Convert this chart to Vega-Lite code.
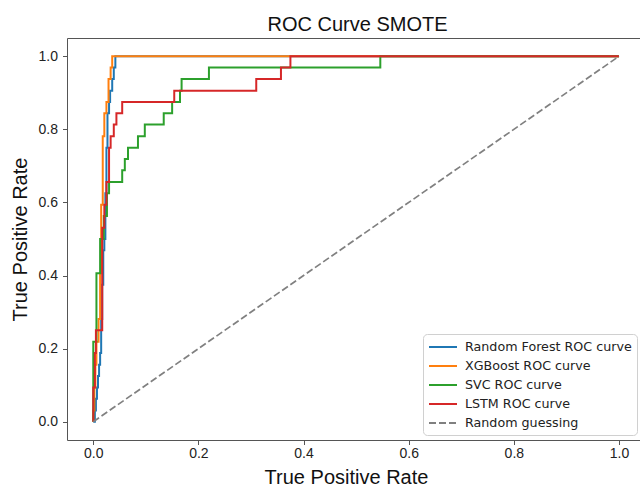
{
"$schema": "https://vega.github.io/schema/vega-lite/v6.json",
"width": 573, "height": 402,
"autosize": {"type": "none"},
"padding": {"left": 67, "top": 38, "right": 0, "bottom": 46},
"background": "white",
"title": {"text": "ROC Curve SMOTE", "font": "Liberation Sans", "fontSize": 20, "fontWeight": "normal", "color": "#111", "offset": 3, "dx": 4},
"config": {
  "view": {"stroke": "#555", "strokeWidth": 1},
  "axis": {"grid": false, "domain": false, "tickColor": "#555", "tickSize": 4.5, "labelFont": "Liberation Sans", "labelFontSize": 14, "labelColor": "#222", "titleFont": "Liberation Sans", "titleFontSize": 20, "titleFontWeight": "normal", "titleColor": "#111"},
  "legend": {"symbolType": "M-2,0H2", "symbolSize": 196, "symbolStrokeWidth": 2, "symbolOffset": 7, "labelFont": "DejaVu Sans", "labelFontSize": 12.7, "labelColor": "#222", "labelOffset": 14, "labelLimit": 300, "padding": 5, "strokeColor": "#d0d0d0", "fillColor": "white", "cornerRadius": 4, "rowPadding": 4}
},
"data": {"values": [
{"m":"Random Forest ROC curve","i":0,"x":0,"y":0},{"m":"Random Forest ROC curve","i":1,"x":0.003,"y":0},{"m":"Random Forest ROC curve","i":2,"x":0.003,"y":0.031},{"m":"Random Forest ROC curve","i":3,"x":0.005,"y":0.031},{"m":"Random Forest ROC curve","i":4,"x":0.005,"y":0.063},{"m":"Random Forest ROC curve","i":5,"x":0.007,"y":0.063},{"m":"Random Forest ROC curve","i":6,"x":0.007,"y":0.094},{"m":"Random Forest ROC curve","i":7,"x":0.009,"y":0.094},{"m":"Random Forest ROC curve","i":8,"x":0.009,"y":0.125},{"m":"Random Forest ROC curve","i":9,"x":0.011,"y":0.125},{"m":"Random Forest ROC curve","i":10,"x":0.011,"y":0.156},{"m":"Random Forest ROC curve","i":11,"x":0.013,"y":0.156},{"m":"Random Forest ROC curve","i":12,"x":0.013,"y":0.188},{"m":"Random Forest ROC curve","i":13,"x":0.015,"y":0.188},{"m":"Random Forest ROC curve","i":14,"x":0.015,"y":0.281},{"m":"Random Forest ROC curve","i":15,"x":0.017,"y":0.281},{"m":"Random Forest ROC curve","i":16,"x":0.017,"y":0.375},{"m":"Random Forest ROC curve","i":17,"x":0.019,"y":0.375},{"m":"Random Forest ROC curve","i":18,"x":0.019,"y":0.469},{"m":"Random Forest ROC curve","i":19,"x":0.021,"y":0.469},{"m":"Random Forest ROC curve","i":20,"x":0.021,"y":0.5},{"m":"Random Forest ROC curve","i":21,"x":0.023,"y":0.5},{"m":"Random Forest ROC curve","i":22,"x":0.023,"y":0.625},{"m":"Random Forest ROC curve","i":23,"x":0.025,"y":0.625},{"m":"Random Forest ROC curve","i":24,"x":0.025,"y":0.75},{"m":"Random Forest ROC curve","i":25,"x":0.027,"y":0.75},{"m":"Random Forest ROC curve","i":26,"x":0.027,"y":0.844},{"m":"Random Forest ROC curve","i":27,"x":0.03,"y":0.844},{"m":"Random Forest ROC curve","i":28,"x":0.03,"y":0.875},{"m":"Random Forest ROC curve","i":29,"x":0.032,"y":0.875},{"m":"Random Forest ROC curve","i":30,"x":0.032,"y":0.906},{"m":"Random Forest ROC curve","i":31,"x":0.036,"y":0.906},{"m":"Random Forest ROC curve","i":32,"x":0.036,"y":0.938},{"m":"Random Forest ROC curve","i":33,"x":0.039,"y":0.938},{"m":"Random Forest ROC curve","i":34,"x":0.039,"y":0.969},{"m":"Random Forest ROC curve","i":35,"x":0.042,"y":0.969},{"m":"Random Forest ROC curve","i":36,"x":0.042,"y":1},{"m":"Random Forest ROC curve","i":37,"x":1,"y":1},
{"m":"XGBoost ROC curve","i":0,"x":0,"y":0},{"m":"XGBoost ROC curve","i":1,"x":0,"y":0.031},{"m":"XGBoost ROC curve","i":2,"x":0.002,"y":0.031},{"m":"XGBoost ROC curve","i":3,"x":0.002,"y":0.094},{"m":"XGBoost ROC curve","i":4,"x":0.004,"y":0.094},{"m":"XGBoost ROC curve","i":5,"x":0.004,"y":0.156},{"m":"XGBoost ROC curve","i":6,"x":0.006,"y":0.156},{"m":"XGBoost ROC curve","i":7,"x":0.006,"y":0.219},{"m":"XGBoost ROC curve","i":8,"x":0.01,"y":0.219},{"m":"XGBoost ROC curve","i":9,"x":0.01,"y":0.281},{"m":"XGBoost ROC curve","i":10,"x":0.013,"y":0.281},{"m":"XGBoost ROC curve","i":11,"x":0.013,"y":0.406},{"m":"XGBoost ROC curve","i":12,"x":0.015,"y":0.406},{"m":"XGBoost ROC curve","i":13,"x":0.015,"y":0.594},{"m":"XGBoost ROC curve","i":14,"x":0.018,"y":0.594},{"m":"XGBoost ROC curve","i":15,"x":0.018,"y":0.781},{"m":"XGBoost ROC curve","i":16,"x":0.021,"y":0.781},{"m":"XGBoost ROC curve","i":17,"x":0.021,"y":0.844},{"m":"XGBoost ROC curve","i":18,"x":0.025,"y":0.844},{"m":"XGBoost ROC curve","i":19,"x":0.025,"y":0.875},{"m":"XGBoost ROC curve","i":20,"x":0.029,"y":0.875},{"m":"XGBoost ROC curve","i":21,"x":0.029,"y":0.938},{"m":"XGBoost ROC curve","i":22,"x":0.033,"y":0.938},{"m":"XGBoost ROC curve","i":23,"x":0.033,"y":0.969},{"m":"XGBoost ROC curve","i":24,"x":0.036,"y":0.969},{"m":"XGBoost ROC curve","i":25,"x":0.036,"y":1},{"m":"XGBoost ROC curve","i":26,"x":1,"y":1},
{"m":"SVC ROC curve","i":0,"x":0,"y":0},{"m":"SVC ROC curve","i":1,"x":0,"y":0.219},{"m":"SVC ROC curve","i":2,"x":0.006,"y":0.219},{"m":"SVC ROC curve","i":3,"x":0.006,"y":0.406},{"m":"SVC ROC curve","i":4,"x":0.013,"y":0.406},{"m":"SVC ROC curve","i":5,"x":0.013,"y":0.5},{"m":"SVC ROC curve","i":6,"x":0.02,"y":0.5},{"m":"SVC ROC curve","i":7,"x":0.02,"y":0.563},{"m":"SVC ROC curve","i":8,"x":0.026,"y":0.563},{"m":"SVC ROC curve","i":9,"x":0.026,"y":0.625},{"m":"SVC ROC curve","i":10,"x":0.03,"y":0.625},{"m":"SVC ROC curve","i":11,"x":0.03,"y":0.656},{"m":"SVC ROC curve","i":12,"x":0.055,"y":0.656},{"m":"SVC ROC curve","i":13,"x":0.055,"y":0.688},{"m":"SVC ROC curve","i":14,"x":0.06,"y":0.688},{"m":"SVC ROC curve","i":15,"x":0.06,"y":0.719},{"m":"SVC ROC curve","i":16,"x":0.066,"y":0.719},{"m":"SVC ROC curve","i":17,"x":0.066,"y":0.75},{"m":"SVC ROC curve","i":18,"x":0.085,"y":0.75},{"m":"SVC ROC curve","i":19,"x":0.085,"y":0.781},{"m":"SVC ROC curve","i":20,"x":0.098,"y":0.781},{"m":"SVC ROC curve","i":21,"x":0.098,"y":0.813},{"m":"SVC ROC curve","i":22,"x":0.134,"y":0.813},{"m":"SVC ROC curve","i":23,"x":0.134,"y":0.844},{"m":"SVC ROC curve","i":24,"x":0.15,"y":0.844},{"m":"SVC ROC curve","i":25,"x":0.15,"y":0.875},{"m":"SVC ROC curve","i":26,"x":0.165,"y":0.875},{"m":"SVC ROC curve","i":27,"x":0.165,"y":0.906},{"m":"SVC ROC curve","i":28,"x":0.168,"y":0.906},{"m":"SVC ROC curve","i":29,"x":0.168,"y":0.938},{"m":"SVC ROC curve","i":30,"x":0.22,"y":0.938},{"m":"SVC ROC curve","i":31,"x":0.22,"y":0.969},{"m":"SVC ROC curve","i":32,"x":0.546,"y":0.969},{"m":"SVC ROC curve","i":33,"x":0.546,"y":1},{"m":"SVC ROC curve","i":34,"x":1,"y":1},
{"m":"LSTM ROC curve","i":0,"x":0,"y":0},{"m":"LSTM ROC curve","i":1,"x":0,"y":0.094},{"m":"LSTM ROC curve","i":2,"x":0.003,"y":0.094},{"m":"LSTM ROC curve","i":3,"x":0.003,"y":0.188},{"m":"LSTM ROC curve","i":4,"x":0.005,"y":0.188},{"m":"LSTM ROC curve","i":5,"x":0.005,"y":0.25},{"m":"LSTM ROC curve","i":6,"x":0.017,"y":0.25},{"m":"LSTM ROC curve","i":7,"x":0.017,"y":0.531},{"m":"LSTM ROC curve","i":8,"x":0.021,"y":0.531},{"m":"LSTM ROC curve","i":9,"x":0.021,"y":0.594},{"m":"LSTM ROC curve","i":10,"x":0.025,"y":0.594},{"m":"LSTM ROC curve","i":11,"x":0.025,"y":0.656},{"m":"LSTM ROC curve","i":12,"x":0.03,"y":0.656},{"m":"LSTM ROC curve","i":13,"x":0.03,"y":0.75},{"m":"LSTM ROC curve","i":14,"x":0.033,"y":0.75},{"m":"LSTM ROC curve","i":15,"x":0.033,"y":0.781},{"m":"LSTM ROC curve","i":16,"x":0.039,"y":0.781},{"m":"LSTM ROC curve","i":17,"x":0.039,"y":0.813},{"m":"LSTM ROC curve","i":18,"x":0.044,"y":0.813},{"m":"LSTM ROC curve","i":19,"x":0.044,"y":0.844},{"m":"LSTM ROC curve","i":20,"x":0.055,"y":0.844},{"m":"LSTM ROC curve","i":21,"x":0.055,"y":0.875},{"m":"LSTM ROC curve","i":22,"x":0.154,"y":0.875},{"m":"LSTM ROC curve","i":23,"x":0.154,"y":0.906},{"m":"LSTM ROC curve","i":24,"x":0.31,"y":0.906},{"m":"LSTM ROC curve","i":25,"x":0.31,"y":0.938},{"m":"LSTM ROC curve","i":26,"x":0.357,"y":0.938},{"m":"LSTM ROC curve","i":27,"x":0.357,"y":0.969},{"m":"LSTM ROC curve","i":28,"x":0.375,"y":0.969},{"m":"LSTM ROC curve","i":29,"x":0.375,"y":1},{"m":"LSTM ROC curve","i":30,"x":1,"y":1},
{"m":"Random guessing","i":0,"x":0,"y":0},{"m":"Random guessing","i":1,"x":1,"y":1}
]},
"encoding": {
  "x": {"field": "x", "type": "quantitative", "scale": {"domain": [-0.05, 1.04], "nice": false, "zero": false}, "axis": {"values": [0, 0.2, 0.4, 0.6, 0.8, 1], "format": ".1f", "title": "True Positive Rate", "labelPadding": 2, "titleX": 279, "titleY": 43, "titleBaseline": "alphabetic", "titleAlign": "center"}},
  "y": {"field": "y", "type": "quantitative", "scale": {"domain": [-0.05, 1.05], "nice": false, "zero": false}, "axis": {"values": [0, 0.2, 0.4, 0.6, 0.8, 1], "format": ".1f", "title": "True Positive Rate", "labelPadding": 5, "titleX": -41, "titleY": 201, "titleAngle": -90, "titleBaseline": "alphabetic", "titleAlign": "center"}},
  "color": {"field": "m", "type": "nominal", "scale": {"domain": ["Random Forest ROC curve", "XGBoost ROC curve", "SVC ROC curve", "LSTM ROC curve", "Random guessing"], "range": ["#1f77b4", "#ff7f0e", "#2ca02c", "#d62728", "#808080"]}, "legend": {"title": null, "orient": "none", "legendX": 356, "legendY": 296}},
  "strokeDash": {"field": "m", "type": "nominal", "scale": {"domain": ["Random Forest ROC curve", "XGBoost ROC curve", "SVC ROC curve", "LSTM ROC curve", "Random guessing"], "range": [[1, 0], [1, 0], [1, 0], [1, 0], [7, 3]]}, "legend": {"title": null, "orient": "none", "legendX": 356, "legendY": 296}},
  "order": {"field": "i", "type": "quantitative"}
},
"layer": [
  {"transform": [{"filter": "datum.m === 'Random Forest ROC curve'"}], "mark": {"type": "line", "strokeWidth": 2}},
  {"transform": [{"filter": "datum.m === 'XGBoost ROC curve'"}], "mark": {"type": "line", "strokeWidth": 2}},
  {"transform": [{"filter": "datum.m === 'SVC ROC curve'"}], "mark": {"type": "line", "strokeWidth": 2}},
  {"transform": [{"filter": "datum.m === 'LSTM ROC curve'"}], "mark": {"type": "line", "strokeWidth": 2}},
  {"transform": [{"filter": "datum.m === 'Random guessing'"}], "mark": {"type": "line", "strokeWidth": 1.7}}
]
}
